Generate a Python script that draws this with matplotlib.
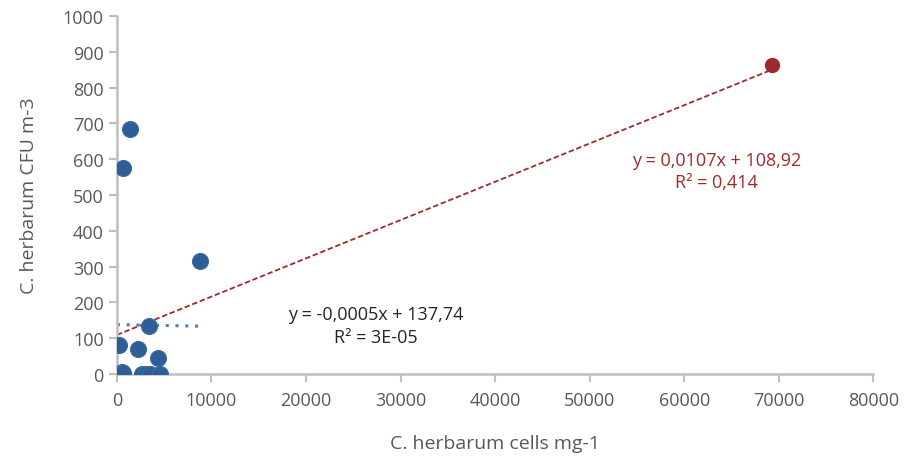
import matplotlib.pyplot as plt
import numpy as np

plt.rcParams['font.family'] = ['Open Sans', 'DejaVu Sans']

# blue series (cells mg-1, CFU m-3)
cells = [1400, 650, 8800, 3400, 250, 2200, 4400, 500, 700, 2700, 3100, 3500, 4600]
cfu = [685, 575, 315, 135, 82, 70, 45, 5, 2, 0, 0, 0, 0]

# red outlier point
out_cells = [69300]
out_cfu = [862]

# trendlines (slope, intercept, x range)
blue_fit = (-0.0005, 137.74, [0, 8800])
red_fit = (0.0107, 108.92, [0, 69300])

blue = '#2F5E97'
light_blue = '#4A7CC8'
red = '#9E2B2B'
grey = '#595959'

fig = plt.figure(figsize=(9.06, 4.6), dpi=100)
ax = fig.add_axes([0.129, 0.185, 0.835, 0.778])

x = np.array(blue_fit[2])
ax.plot(x, blue_fit[0] * x + blue_fit[1], ls=(0, (1, 2.2)), color=light_blue, lw=2.2, zorder=2)
x = np.array(red_fit[2])
ax.plot(x, red_fit[0] * x + red_fit[1], ls=(0, (3, 1.5)), color=red, lw=1.3, zorder=2)

ax.plot(cells, cfu, 'o', color=blue, ms=11.5, mec='#3A6BA8', mew=0.8, zorder=3)
ax.plot(out_cells, out_cfu, 'o', color=red, ms=10, zorder=3)

ax.text(27400, 134, 'y = -0,0005x + 137,74\nR² = 3E-05', ha='center', va='center',
        fontsize=13, color='#262626', linespacing=1.35)
ax.text(63400, 567, 'y = 0,0107x + 108,92\nR² = 0,414', ha='center', va='center',
        fontsize=13, color=red, linespacing=1.35)

ax.set_xlim(0, 80000)
ax.set_ylim(0, 1000)
ax.set_xticks(np.arange(0, 80001, 10000))
ax.set_yticks(np.arange(0, 1001, 100))
ax.set_xlabel('C. herbarum cells mg-1', fontsize=14, color=grey, labelpad=18)
ax.set_ylabel('C. herbarum CFU m-3', fontsize=14, color=grey, labelpad=18)

for s in ['top', 'right']:
    ax.spines[s].set_visible(False)
for s in ['left', 'bottom']:
    ax.spines[s].set_color('#BFBFBF')
    ax.spines[s].set_linewidth(1.8)
ax.tick_params(colors='#BFBFBF', width=1.5, length=6, labelcolor=grey, labelsize=13)
ax.tick_params(axis='x', pad=6)

fig.savefig('out.png', dpi=100)
